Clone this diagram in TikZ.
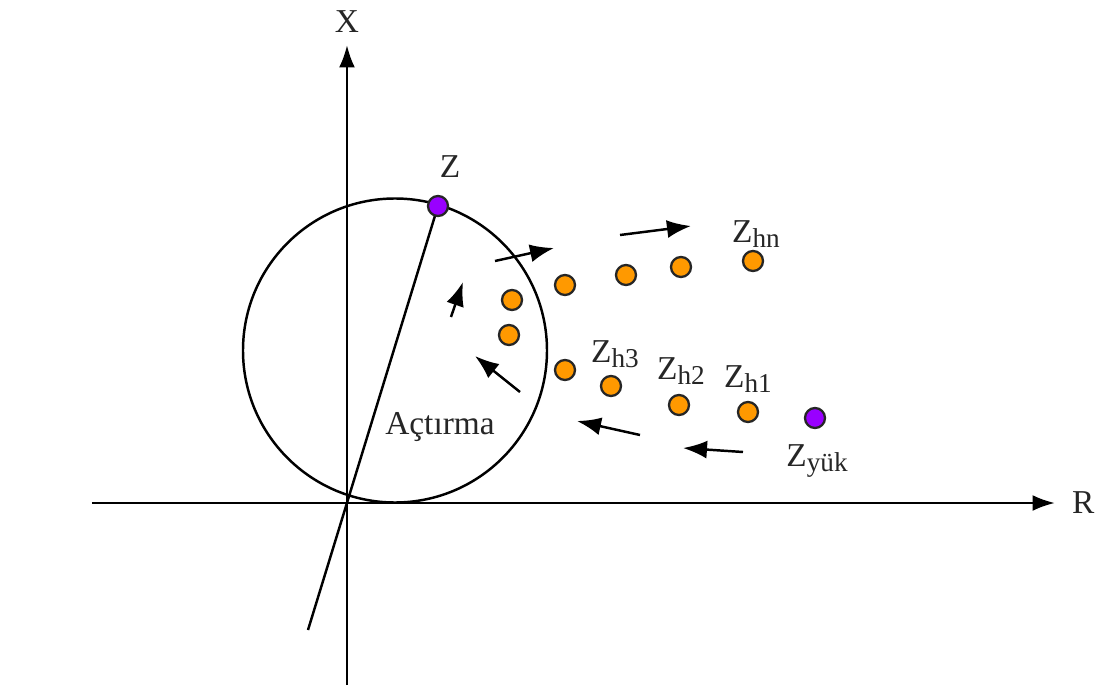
\documentclass[tikz,border=0pt]{standalone}
\usepackage{fontspec}
\setmainfont{Liberation Serif}
\usetikzlibrary{arrows.meta}

\definecolor{harmonic}{RGB}{255,153,0}
\definecolor{loadviolet}{RGB}{153,0,255}

\newcommand{\Zsub}[1]{Z\raisebox{-0.35ex}{\fontsize{15.5}{16}\selectfont #1}}

\begin{document}
\begin{tikzpicture}[
    axis/.style={line width=1.5pt, -{Latex[length=4.5mm,width=3.2mm]}},
    flow/.style={line width=1.4pt, -{Latex[length=4.8mm,width=3.6mm]}},
    hdot/.style={circle, draw=black!85, line width=1.3pt, fill=harmonic, inner sep=0pt, minimum size=4mm},
    ldot/.style={circle, draw=black!85, line width=1.3pt, fill=loadviolet, inner sep=0pt, minimum size=4mm},
    lbl/.style={font=\fontsize{19}{22}\selectfont, text=black!85}
  ]
    \useasboundingbox (-6.94,-3.7) rectangle (14.96,10.06);

    % Axes
    \coordinate (o) at (0,0);
    \draw[axis] (0,-3.64) -- (0,9.16);
    \node[lbl] (xl) at (0,9.62) {X};
    \draw[axis] (-5.1,0) -- (14.16,0) node[lbl, right=2mm] (rl) {R};

    % Trip circle
    \coordinate (c) at (0.96,3.05);
    \draw[line width=1.4pt] (c) circle (3.04);

    % Relay impedance and characteristic line
    \coordinate (tail) at (-0.78,-2.54);
    \draw[line width=1.4pt] (1.82,5.94) -- (tail);
    \node[ldot] (z) at (1.82,5.94) {};
    \node[lbl] (zl) at (2.06,6.72) {Z};

    % Harmonic impedances
    \node[hdot] (h1) at (8.02,1.82) {};
    \node[hdot] (h2) at (6.64,1.96) {};
    \node[hdot] (h3) at (5.28,2.34) {};
    \node[hdot] (h4) at (4.36,2.66) {};
    \node[hdot] (h5) at (3.24,3.36) {};
    \node[hdot] (h6) at (3.30,4.06) {};
    \node[hdot] (h7) at (4.36,4.36) {};
    \node[hdot] (h8) at (5.58,4.56) {};
    \node[hdot] (h9) at (6.68,4.72) {};
    \node[hdot] (hn) at (8.12,4.84) {};

    % Load impedance
    \node[ldot] (yuk) at (9.36,1.70) {};

    % Labels
    \node[lbl] (hnl) at (8.18,5.38) {\Zsub{hn}};
    \node[lbl] (h3l) at (5.36,2.98) {\Zsub{h3}};
    \node[lbl] (h2l) at (6.68,2.64) {\Zsub{h2}};
    \node[lbl] (h1l) at (8.02,2.48) {\Zsub{h1}};
    \node[lbl] (yukl) at (9.40,0.84) {\Zsub{yük}};
    \node[lbl] (trip) at (1.86,1.52) {Açtırma};

    % Movement of the impedance
    \draw[flow] (7.92,1.02) -- (6.72,1.10);
    \draw[flow] (5.86,1.36) -- (4.60,1.64);
    \draw[flow] (3.46,2.22) -- (2.56,2.94);
    \draw[flow] (2.08,3.72) -- (2.32,4.42);
    \draw[flow] (2.96,4.84) -- (4.14,5.10);
    \draw[flow] (5.46,5.36) -- (6.88,5.54);
\end{tikzpicture}
\end{document}
